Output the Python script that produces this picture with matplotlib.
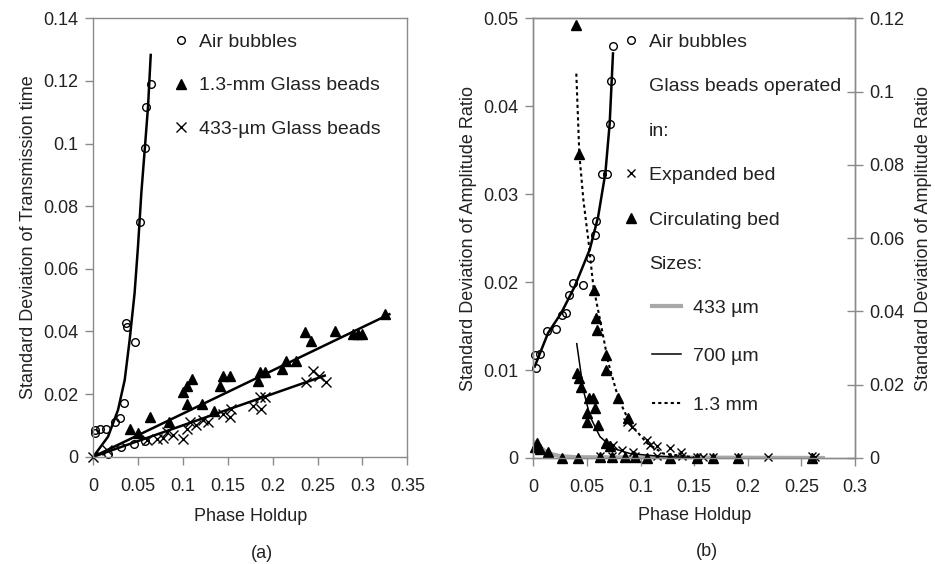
import matplotlib
matplotlib.use('Agg')
import matplotlib.pyplot as plt
from matplotlib.lines import Line2D
from matplotlib.ticker import FuncFormatter

plt.rcParams['font.family'] = ['Liberation Sans', 'DejaVu Sans']
plt.rcParams['font.size'] = 13

# ---- (a) transmission time ----
air_a_x = [0.0015, 0.002, 0.007, 0.0145, 0.024, 0.030, 0.034, 0.0368, 0.0375, 0.046,
           0.0517, 0.058, 0.059, 0.064, 0.0164, 0.031, 0.045, 0.058]
air_a_y = [0.0075, 0.0085, 0.009, 0.009, 0.0112, 0.0123, 0.017, 0.0426, 0.0415, 0.0367,
           0.075, 0.0985, 0.1118, 0.119, 0.001, 0.0032, 0.004, 0.005]
air_a_fit_x = [0.0, 0.0164, 0.0275, 0.035, 0.0405, 0.046, 0.0498, 0.0535, 0.0573, 0.061, 0.064]
air_a_fit_y = [0.0, 0.0064, 0.0149, 0.0245, 0.0373, 0.0522, 0.0671, 0.0841, 0.098, 0.1118, 0.1283]

b13_x = [0.041, 0.050, 0.063, 0.084, 0.100, 0.104, 0.110, 0.104, 0.121, 0.134, 0.141,
         0.145, 0.152, 0.184, 0.186, 0.191, 0.210, 0.215, 0.226, 0.236, 0.243, 0.269,
         0.289, 0.295, 0.300, 0.3256]
b13_y = [0.0089, 0.0076, 0.0126, 0.011, 0.0206, 0.0227, 0.0248, 0.0169, 0.0169, 0.0147,
         0.0227, 0.0259, 0.0259, 0.0243, 0.027, 0.027, 0.028, 0.0306, 0.0306, 0.0397,
         0.037, 0.0402, 0.0391, 0.0391, 0.0391, 0.0455]
b13_fit_x = [0.0, 0.33]
b13_fit_y = [0.0, 0.0455]

b433_x = [0.0, 0.015, 0.060, 0.071, 0.078, 0.082, 0.089, 0.100, 0.104, 0.108, 0.115,
          0.1226, 0.128, 0.145, 0.152, 0.154, 0.178, 0.186, 0.187, 0.191, 0.237, 0.245,
          0.252, 0.2596]
b433_y = [0.0, 0.002, 0.0052, 0.0057, 0.006, 0.0079, 0.0068, 0.0058, 0.0089, 0.011, 0.010,
          0.0116, 0.011, 0.0137, 0.0126, 0.0153, 0.0163, 0.019, 0.0153, 0.019, 0.0238,
          0.0275, 0.0259, 0.0238]
b433_fit_x = [0.0, 0.258]
b433_fit_y = [0.0, 0.0259]

# ---- (b) amplitude ratio ----
air_b_x = [0.0025, 0.0016, 0.0062, 0.0125, 0.0212, 0.0265, 0.0305, 0.0336, 0.0373, 0.046,
           0.0529, 0.0576, 0.0585, 0.0638, 0.0685, 0.0716, 0.0722, 0.0746]
air_b_y = [0.0102, 0.0117, 0.0118, 0.0144, 0.0147, 0.0163, 0.0165, 0.0185, 0.0199, 0.0197,
           0.0227, 0.0254, 0.027, 0.0323, 0.0323, 0.038, 0.0429, 0.0468]
air_b_fit_x = [0.0013, 0.0137, 0.0261, 0.0386, 0.0526, 0.0604, 0.0672, 0.0712, 0.0743]
air_b_fit_y = [0.0104, 0.0142, 0.0165, 0.0195, 0.0237, 0.0274, 0.0324, 0.038, 0.046]

# glass beads, right-hand scale
circ_x = [0.0398, 0.0429, 0.0566, 0.0585, 0.0597, 0.0678, 0.0675, 0.0793, 0.0886,
          0.041, 0.0429, 0.0442, 0.0523, 0.056, 0.0576, 0.0498, 0.0498, 0.0607, 0.0678, 0.0716,
          0.003, 0.0045, 0.006, 0.014, 0.002,
          0.0265, 0.042, 0.0622, 0.073, 0.0855, 0.0949, 0.1058, 0.1275, 0.1524, 0.168, 0.191, 0.2597]
circ_y = [0.1183, 0.083, 0.0458, 0.0382, 0.035, 0.0281, 0.024, 0.0163, 0.0108,
          0.0233, 0.0218, 0.0194, 0.0163, 0.0163, 0.0137, 0.0122, 0.0098, 0.0091, 0.0041, 0.0034,
          0.0041, 0.0031, 0.0024, 0.0017, 0.003,
          0.0, 0.0, 0.0002, 0.0002, 0.0002, 0.0002, 0.0, 0.0, 0.0, 0.0, 0.0, 0.0]
exp_x = [0.0871, 0.092, 0.1058, 0.109, 0.115, 0.1275, 0.138, 0.0746, 0.0824, 0.093,
         0.0622, 0.073, 0.0949, 0.115, 0.1384, 0.1524, 0.158, 0.168, 0.191, 0.219, 0.2597, 0.263]
exp_y = [0.0098, 0.0084, 0.0048, 0.0036, 0.0034, 0.0026, 0.0017, 0.0036, 0.0022, 0.0017,
         0.0005, 0.0005, 0.0005, 0.0005, 0.0005, 0.0004, 0.0004, 0.0004, 0.0004, 0.0004,
         0.0005, 0.0003]

fit433_x = [0.001, 0.008, 0.015, 0.025, 0.04, 0.27]
fit433_y = [0.0043, 0.0025, 0.0012, 0.0005, 0.0002, 0.0]
fit700_x = [0.0405, 0.0467, 0.0529, 0.0622, 0.0746, 0.0902, 0.12, 0.15]
fit700_y = [0.0312, 0.0185, 0.0113, 0.0058, 0.0026, 0.0012, 0.0004, 0.0001]
fit13_x = [0.0401, 0.0429, 0.0467, 0.0513, 0.056, 0.0622, 0.070, 0.0793, 0.0902, 0.1058,
           0.1213, 0.15]
fit13_y = [0.1049, 0.083, 0.0704, 0.0595, 0.0468, 0.0377, 0.0259, 0.0163, 0.0094, 0.0041,
           0.0012, 0.0002]

frame = '#8a8a8a'
txt = '#222222'
fmt = FuncFormatter(lambda v, p: f'{v:g}')

fig = plt.figure(figsize=(9.35, 5.64), dpi=100)
ax1 = fig.add_axes([0.0998, 0.1902, 0.3358, 0.7773])
ax2 = fig.add_axes([0.5704, 0.188, 0.344, 0.7796])
ax3 = ax2.twinx()

for ax in (ax1, ax2, ax3):
    for s in ax.spines.values():
        s.set_color(frame)
        s.set_linewidth(1.0)
    ax.tick_params(color=frame, labelcolor=txt, length=6, width=1.0)
    ax.tick_params(axis='x', pad=9)
    ax.tick_params(axis='y', pad=5)

# panel (a)
ax1.plot(air_a_fit_x, air_a_fit_y, '-', color='k', lw=1.8)
ax1.plot(b13_fit_x, b13_fit_y, '-', color='k', lw=1.8)
ax1.plot(b433_fit_x, b433_fit_y, '-', color='k', lw=1.8)
h_air, = ax1.plot(air_a_x, air_a_y, 'o', mfc='none', mec='k', ms=5.5, mew=1.0,
                  clip_on=False)
h_b13, = ax1.plot(b13_x, b13_y, '^', color='k', ms=6.5, clip_on=False)
h_b433, = ax1.plot(b433_x, b433_y, 'x', color='k', ms=6.5, mew=1.0, clip_on=False)
ax1.set_xlim(0, 0.35)
ax1.set_ylim(0, 0.14)
ax1.set_xticks([i * 0.05 for i in range(8)])
ax1.set_yticks([i * 0.02 for i in range(8)])
ax1.xaxis.set_major_formatter(fmt)
ax1.yaxis.set_major_formatter(fmt)
ax1.set_xlabel('Phase Holdup', color=txt)
ax1.set_ylabel('Standard Deviation of Transmission time', color=txt)
ax1.xaxis.set_label_coords(0.5, -0.118)
ax1.yaxis.set_label_coords(-0.179, 0.5)
ax1.legend([h_air, h_b13, h_b433],
           ['Air bubbles', '1.3-mm Glass beads', '433-µm Glass beads'],
           loc='upper left', bbox_to_anchor=(0.247, 0.966), frameon=False,
           borderpad=0, borderaxespad=0, handlelength=1.0, handletextpad=0.45,
           labelspacing=1.33, fontsize=14, labelcolor=txt)

# panel (b)
ax2.plot(air_b_fit_x, air_b_fit_y, '-', color='k', lw=1.8)
h_air_b, = ax2.plot(air_b_x, air_b_y, 'o', mfc='none', mec='k', ms=5.5, mew=1.0,
                    clip_on=False)
ax2.set_xlim(0, 0.3)
ax2.set_ylim(0, 0.05)
ax2.set_xticks([i * 0.05 for i in range(7)])
ax2.set_yticks([i * 0.01 for i in range(6)])
ax2.xaxis.set_major_formatter(fmt)
ax2.yaxis.set_major_formatter(fmt)
ax2.set_xlabel('Phase Holdup', color=txt)
ax2.set_ylabel('Standard Deviation of Amplitude Ratio', color=txt)
ax2.xaxis.set_label_coords(0.5, -0.112)
ax2.yaxis.set_label_coords(-0.175, 0.5)

h433, = ax3.plot(fit433_x, fit433_y, '-', color='#a8a8a8', lw=3.0)
h700, = ax3.plot(fit700_x, fit700_y, '-', color='k', lw=1.1)
h13, = ax3.plot(fit13_x, fit13_y, linestyle=(0, (1.5, 1.5)), color='k', lw=1.5)
h_exp, = ax3.plot(exp_x, exp_y, 'x', color='k', ms=6, mew=1.0, clip_on=False)
h_circ, = ax3.plot(circ_x, circ_y, '^', color='k', ms=6.5, clip_on=False)
ax3.set_ylim(0, 0.12)
ax3.set_yticks([i * 0.02 for i in range(7)])
ax3.yaxis.set_major_formatter(fmt)
ax3.tick_params(axis='y', direction='inout', length=12, pad=4)
ax3.set_ylabel('Standard Deviation of Amplitude Ratio', color=txt)
ax3.yaxis.set_label_coords(1.1865, 0.5)

blank = Line2D([], [], linestyle='none')
leg1 = ax3.legend([h_air_b, blank, blank, h_exp, h_circ, blank],
                  ['Air bubbles', 'Glass beads operated', 'in:', 'Expanded bed',
                   'Circulating bed', 'Sizes:'],
                  loc='upper left', bbox_to_anchor=(0.2726, 0.966), frameon=False,
                  borderpad=0, borderaxespad=0, handlelength=1.0, handletextpad=0.45,
                  labelspacing=1.38, fontsize=14, labelcolor=txt)
ax3.add_artist(leg1)
ax3.legend([h433, h700, h13], ['433 µm', '700 µm', '1.3 mm'],
           loc='upper left', bbox_to_anchor=(0.368, 0.361), frameon=False,
           borderpad=0, borderaxespad=0, handlelength=1.5, handletextpad=0.6,
           labelspacing=1.58, fontsize=14, labelcolor=txt)

fig.text(262 / 935, 1 - 553 / 564, '(a)', ha='center', va='center', color=txt)
fig.text(707 / 935, 1 - 552 / 564, '(b)', ha='center', va='center', color=txt)

fig.savefig('out.png', dpi=100, facecolor='white')
